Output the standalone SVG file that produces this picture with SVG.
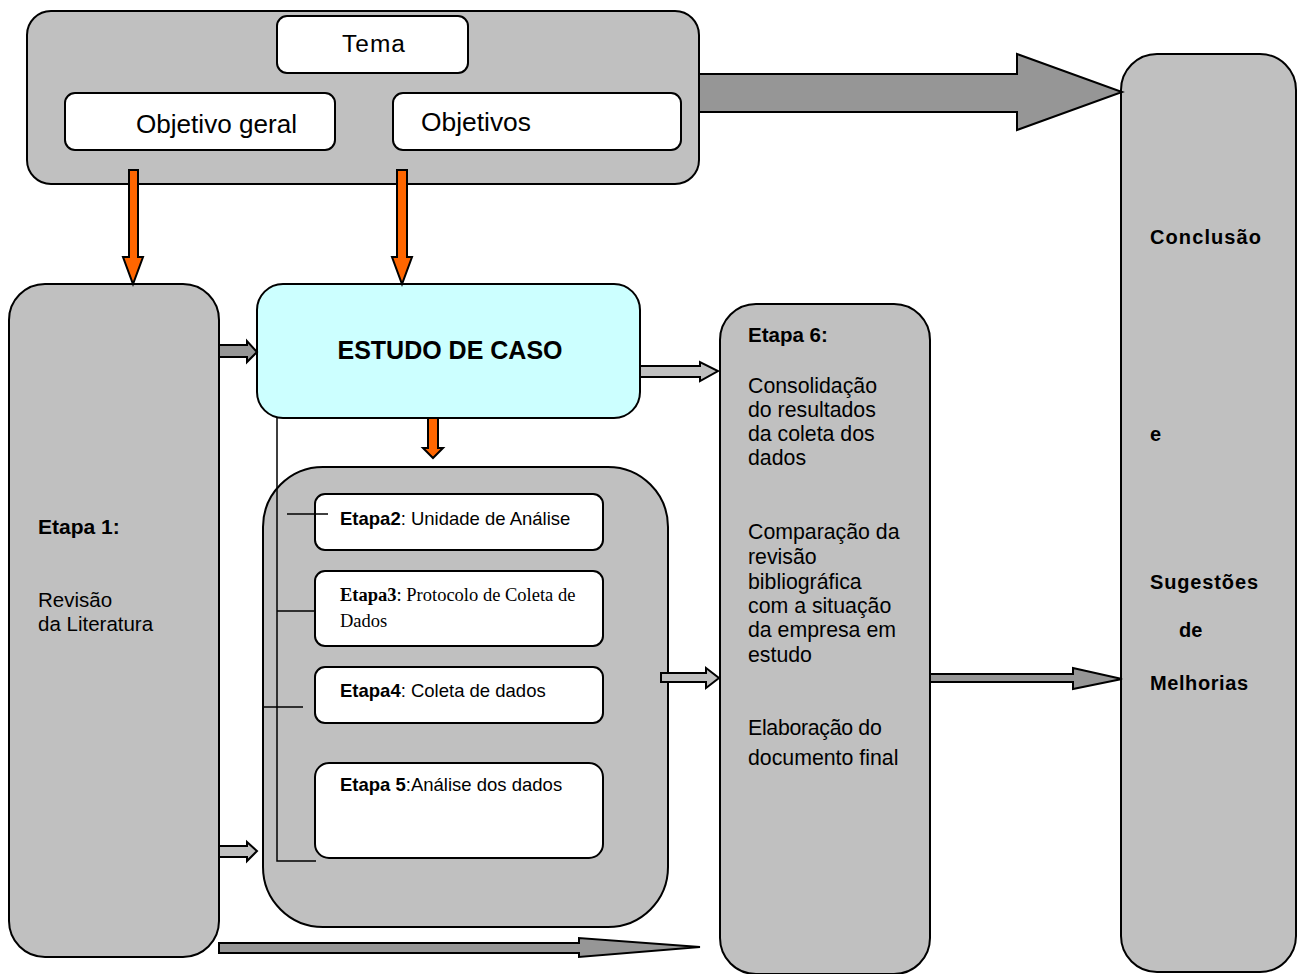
<svg xmlns="http://www.w3.org/2000/svg" width="1301" height="974" viewBox="0 0 1301 974">
  <style>
    .box { stroke: #000; stroke-width: 2; }
    .grey { fill: #c0c0c0; }
    .white { fill: #fff; }
    .cyan { fill: #ccffff; }
    .arrowDark { fill: #969696; stroke: #000; stroke-width: 2; stroke-linejoin: miter; }
    .arrowLight { fill: #c0c0c0; stroke: #000; stroke-width: 2; stroke-linejoin: miter; }
    .arrowOrange { fill: #ff6600; stroke: #000; stroke-width: 2; stroke-linejoin: miter; }
    .link { stroke: #000; stroke-width: 1.5; fill: none; }
    text { font-family: "Liberation Sans", Arial, sans-serif; fill: #000; }
    .b { font-weight: bold; }
    .serif { font-family: "Liberation Serif", "Times New Roman", serif; }
  </style>

  <!-- Top block: theme and objectives -->
  <g id="topo">
    <rect class="box grey" x="27" y="11" width="672" height="173" rx="24"/>
  </g>
  <g id="tema">
    <rect class="box white" x="277" y="16" width="191" height="57" rx="10"/>
    <text x="342" y="52" font-size="23" textLength="64" lengthAdjust="spacingAndGlyphs" letter-spacing="1">Tema</text>
  </g>
  <g id="objetivo-geral">
    <rect class="box white" x="65" y="93" width="270" height="57" rx="10"/>
    <text x="136" y="133" font-size="26" textLength="161" lengthAdjust="spacingAndGlyphs">Objetivo geral</text>
  </g>
  <g id="objetivos">
    <rect class="box white" x="393" y="93" width="288" height="57" rx="10"/>
    <text x="421" y="131" font-size="26" textLength="110" lengthAdjust="spacingAndGlyphs">Objetivos</text>
  </g>

  <!-- Etapa 1 -->
  <g id="etapa1">
    <rect class="box grey" x="9" y="284" width="210" height="673" rx="36"/>
    <text class="b" x="38" y="534" font-size="21">Etapa 1:</text>
    <text x="38" y="607" font-size="20.5">Revisão</text>
    <text x="38" y="631" font-size="20.5">da Literatura</text>
  </g>

  <!-- Case study -->
  <g id="estudo-de-caso">
    <rect class="box cyan" x="257" y="284" width="383" height="134" rx="26"/>
    <text class="b" x="450" y="359" font-size="25" text-anchor="middle">ESTUDO DE CASO</text>
  </g>

  <!-- Steps 2 to 5 -->
  <g id="etapas-2-5">
    <rect class="box grey" x="263" y="467" width="405" height="460" rx="60"/>
  </g>
  <g id="etapa2">
    <rect class="box white" x="315" y="494" width="288" height="56" rx="10"/>
    <text x="340" y="525" font-size="18.5"><tspan class="b">Etapa2</tspan>: Unidade de Análise</text>
  </g>
  <g id="etapa3">
    <rect class="box white" x="315" y="571" width="288" height="75" rx="10"/>
    <text class="serif" x="340" y="601" font-size="18.5"><tspan class="b">Etapa3</tspan>: Protocolo de Coleta de</text>
    <text class="serif" x="340" y="627" font-size="18.5">Dados</text>
  </g>
  <g id="etapa4">
    <rect class="box white" x="315" y="667" width="288" height="56" rx="10"/>
    <text x="340" y="697" font-size="18.5"><tspan class="b">Etapa4</tspan>: Coleta de dados</text>
  </g>
  <g id="etapa5">
    <rect class="box white" x="315" y="763" width="288" height="95" rx="14"/>
    <text x="340" y="791" font-size="18.5"><tspan class="b">Etapa 5</tspan>:Análise dos dados</text>
  </g>

  <!-- Etapa 6 -->
  <g id="etapa6">
    <rect class="box grey" x="720" y="304" width="210" height="670" rx="36"/>
    <text class="b" x="748" y="342" font-size="20.5">Etapa 6:</text>
    <text x="748" y="393" font-size="21.3">Consolidação</text>
    <text x="748" y="417" font-size="21.3">do resultados</text>
    <text x="748" y="441" font-size="21.3">da coleta dos</text>
    <text x="748" y="465" font-size="21.3">dados</text>
    <text x="748" y="539" font-size="21.3">Comparação da</text>
    <text x="748" y="564" font-size="21.3">revisão</text>
    <text x="748" y="589" font-size="21.3">bibliográfica</text>
    <text x="748" y="613" font-size="21.3">com a situação</text>
    <text x="748" y="637" font-size="21.3">da empresa em</text>
    <text x="748" y="662" font-size="21.3">estudo</text>
    <text x="748" y="735" font-size="21.3" letter-spacing="-0.3">Elaboração do</text>
    <text x="748" y="765" font-size="21.3">documento final</text>
  </g>

  <!-- Conclusion -->
  <g id="conclusao">
    <rect class="box grey" x="1121" y="54" width="175" height="918" rx="36"/>
    <text class="b" x="1150" y="244" font-size="20" textLength="111" lengthAdjust="spacing">Conclusão</text>
    <text class="b" x="1150" y="441" font-size="20">e</text>
    <text class="b" x="1150" y="589" font-size="20" textLength="108" lengthAdjust="spacing">Sugestões</text>
    <text class="b" x="1179" y="637" font-size="20">de</text>
    <text class="b" x="1150" y="690" font-size="20" textLength="98" lengthAdjust="spacing">Melhorias</text>
  </g>

  <!-- Connectors -->
  <g id="conectores">
    <polygon class="arrowDark" points="699,74 1017,74 1017,54 1122,92 1017,130 1017,112 699,112"/>
    <polygon class="arrowOrange" points="129,170 138,170 138,257 143,257 133,284 123,257 129,257"/>
    <polygon class="arrowOrange" points="397,170 407,170 407,257 412,257 402,284 392,257 397,257"/>
    <polygon class="arrowOrange" points="428,418 438,418 438,448 443,448 433,458 423,448 428,448"/>
    <polygon class="arrowDark" points="219,345 247,345 247,341 257,352 247,362 247,357 219,357"/>
    <polygon class="arrowLight" points="219,846 247,846 247,842 257,851 247,861 247,857 219,857"/>
    <polygon class="arrowDark" points="219,943 579,943 579,938 700,947 579,957 579,953 219,953"/>
    <polygon class="arrowLight" points="640,366 700,366 700,362 718,371 700,381 700,377 640,377"/>
    <polygon class="arrowLight" points="661,673 706,673 706,668 719,678 706,688 706,682 661,682"/>
    <polygon class="arrowDark" points="930,674 1073,674 1073,668 1122,679 1073,689 1073,682 930,682"/>
    <path class="link" d="M277,418 V861 H316"/>
    <path class="link" d="M277,611 H315"/>
    <path class="link" d="M263,707 H303"/>
    <path class="link" d="M287,514 H328"/>
  </g>
</svg>
